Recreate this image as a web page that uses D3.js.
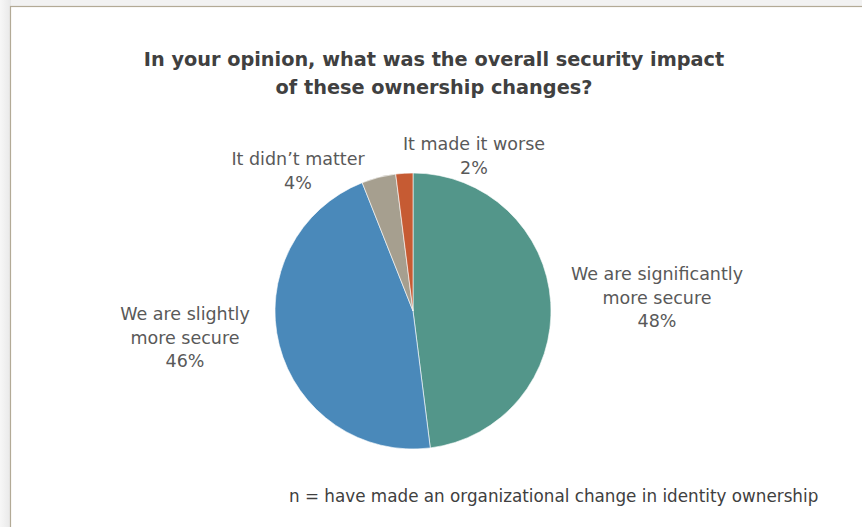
<!DOCTYPE html>
<html>
<head>
<meta charset="utf-8">
<script src="https://cdn.jsdelivr.net/npm/d3@7"></script>
<style>
  html, body { margin: 0; padding: 0; background: #f1f1f1; }
  svg { display: block; }
</style>
</head>
<body>
<svg id="chart" width="862" height="527"></svg>
<script>
// Survey responses, share of respondents (%)
const categories = [
  "We are significantly more secure",
  "We are slightly more secure",
  "It didn't matter",
  "It made it worse"
];
const values = [48, 46, 4, 2];
const valueLabels = ["48%", "46%", "4%", "2%"];
const labelLines = [
  ["We are significantly", "more secure"],
  ["We are slightly", "more secure"],
  ["It didn\u2019t matter"],
  ["It made it worse"]
];
const colors = ["#53968a", "#4a89ba", "#a69f8f", "#c65b33"];

const titleLines = [
  "In your opinion, what was the overall security impact",
  "of these ownership changes?"
];
const footnote = "n = have made an organizational change in identity ownership";

const W = 862, H = 527;
const svg = d3.select("#chart");

// Backdrop shadow and frame
const defs = svg.append("defs");
const gl = defs.append("linearGradient").attr("id", "shadeL").attr("x1", 0).attr("x2", 1);
gl.append("stop").attr("offset", 0).attr("stop-color", "#f7f7f7");
gl.append("stop").attr("offset", 1).attr("stop-color", "#e8e8e8");
svg.append("rect").attr("x", 0).attr("y", 0).attr("width", W).attr("height", H).attr("fill", "#f2f2f2");
svg.append("rect").attr("x", 0).attr("y", 0).attr("width", 11).attr("height", H).attr("fill", "url(#shadeL)");
svg.append("rect").attr("x", 10.5).attr("y", 6.5).attr("width", W + 10).attr("height", H + 10)
  .attr("fill", "#ffffff").attr("stroke", "#b3aa96").attr("stroke-width", 1.2);

const font = "'DejaVu Sans', 'Noto Sans', sans-serif";

// Title
svg.append("text")
  .attr("x", 434).attr("y", 66)
  .attr("text-anchor", "middle")
  .attr("font-family", font).attr("font-weight", "bold")
  .attr("font-size", 19.3).attr("fill", "#404040")
  .selectAll("tspan").data(titleLines).join("tspan")
  .attr("x", 434).attr("dy", (d, i) => i === 0 ? 0 : 28)
  .text(d => d);

// Pie
const cx = 413, cy = 311, r = 138;
const pie = d3.pie().sort(null).value(d => d.value);
const arcs = pie(categories.map((c, i) => ({ name: c, value: values[i], i })));
const arc = d3.arc().innerRadius(0).outerRadius(r);

const g = svg.append("g").attr("transform", `translate(${cx},${cy})`);
g.selectAll("path").data(arcs).join("path")
  .attr("d", arc)
  .attr("fill", d => colors[d.data.i])
  .attr("stroke", "#ffffff").attr("stroke-width", 0.6);

// Data labels (anchor positions in chart pixels)
const labelPos = [
  { x: 657, y: 280 },
  { x: 185, y: 320 },
  { x: 298, y: 165 },
  { x: 474, y: 150 }
];
const lineH = 23.5;
labelPos.forEach((p, i) => {
  const lines = labelLines[i].concat([valueLabels[i]]);
  svg.append("text")
    .attr("text-anchor", "middle")
    .attr("font-family", font).attr("font-size", 17.5).attr("fill", "#595959")
    .selectAll("tspan").data(lines).join("tspan")
    .attr("x", p.x).attr("y", (d, k) => p.y + k * lineH)
    .text(d => d);
});

// Footnote
svg.append("text")
  .attr("x", 289).attr("y", 502)
  .attr("font-family", font).attr("font-size", 16.8).attr("fill", "#404040")
  .text(footnote);
</script>
</body>
</html>
